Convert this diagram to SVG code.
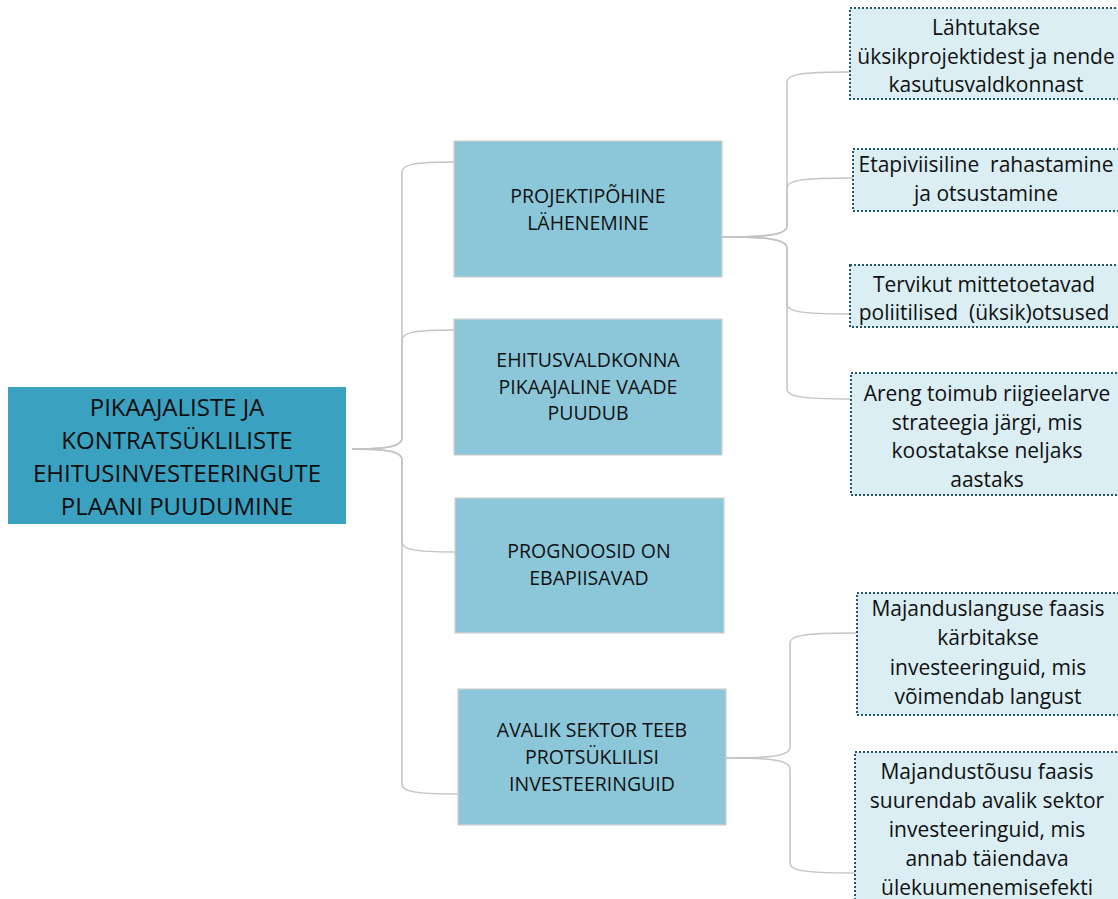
<svg xmlns="http://www.w3.org/2000/svg" width="1118" height="899" viewBox="0 0 1118 899">
<style>
.root rect{fill:#3ba1c0;}
.l1 rect{fill:#8bc7d9;stroke:#d0d0d0;stroke-width:1.2;}
.leaf rect{fill:#daeef3;stroke:#215968;stroke-width:2;stroke-dasharray:2 2;}
text{font-family:"Open Sans","Liberation Sans",sans-serif;fill:#111;text-anchor:middle;}
.root text{font-size:24px;fill:#0d0d0d;}
.l1 text{font-size:19.5px;}
.leaf text{font-size:21px;}
.conn path{fill:none;stroke:#c4c4c4;stroke-width:1.5;}
</style>
<rect width="1118" height="899" fill="#fff"/>
<g class="conn">
<path d="M352,449 C380,449 402,448 402,438 V172 C402,165 412,162 454,162"/>
<path d="M352,449 C380,449 402,448 402,438 V340 C402,333 412,330 454,330"/>
<path d="M352,449 C380,449 402,450 402,460 V542 C402,549 412,552 455,552"/>
<path d="M352,449 C380,449 402,450 402,460 V784 C402,791 412,794 458,794"/>
<path d="M722,237 C760,237 787,236 787,226 V82 C787,75 797,72 850,72"/>
<path d="M722,237 C760,237 787,236 787,226 V188 C787,181 797,178 853,178"/>
<path d="M722,237 C760,237 787,238 787,248 V304 C787,311 797,314 850,314"/>
<path d="M722,237 C760,237 787,238 787,248 V389 C787,396 797,399 851,399"/>
<path d="M726,758 C765,758 790,757 790,747 V643 C790,636 800,633 857,633"/>
<path d="M726,758 C765,758 790,759 790,769 V863 C790,870 800,873 855,873"/>
</g>
<g id="root" class="root">
<rect x="8" y="387" width="338" height="137"/>
<text x="177" y="416">PIKAAJALISTE JA</text>
<text x="177" y="449">KONTRATSÜKLILISTE</text>
<text x="177" y="482">EHITUSINVESTEERINGUTE</text>
<text x="177" y="515">PLAANI PUUDUMINE</text>
</g>
<g id="n1" class="l1">
<rect x="454" y="141" width="268" height="136"/>
<text x="588" y="203">PROJEKTIPÕHINE</text>
<text x="588" y="230">LÄHENEMINE</text>
</g>
<g id="n2" class="l1">
<rect x="454" y="319" width="268" height="136"/>
<text x="588" y="367">EHITUSVALDKONNA</text>
<text x="588" y="394">PIKAAJALINE VAADE</text>
<text x="588" y="420">PUUDUB</text>
</g>
<g id="n3" class="l1">
<rect x="455" y="498" width="269" height="135"/>
<text x="589" y="558">PROGNOOSID ON</text>
<text x="589" y="585">EBAPIISAVAD</text>
</g>
<g id="n4" class="l1">
<rect x="458" y="689" width="268" height="136"/>
<text x="592" y="737">AVALIK SEKTOR TEEB</text>
<text x="592" y="764">PROTSÜKLILISI</text>
<text x="592" y="791">INVESTEERINGUID</text>
</g>
<g id="leaf1" class="leaf">
<rect x="850" y="8" width="275" height="91"/>
<text x="986" y="35">Lähtutakse</text>
<text x="986" y="64">üksikprojektidest ja nende</text>
<text x="986" y="92">kasutusvaldkonnast</text>
</g>
<g id="leaf2" class="leaf">
<rect x="853" y="149" width="272" height="62"/>
<text x="986" y="172" xml:space="preserve">Etapiviisiline  rahastamine</text>
<text x="986" y="201">ja otsustamine</text>
</g>
<g id="leaf3" class="leaf">
<rect x="850" y="265" width="275" height="62"/>
<text x="984" y="292">Tervikut mittetoetavad</text>
<text x="984" y="320" xml:space="preserve">poliitilised  (üksik)otsused</text>
</g>
<g id="leaf4" class="leaf">
<rect x="851" y="373" width="274" height="122"/>
<text x="987" y="401">Areng toimub riigieelarve</text>
<text x="987" y="430">strateegia järgi, mis</text>
<text x="987" y="458">koostatakse neljaks</text>
<text x="987" y="487">aastaks</text>
</g>
<g id="leaf5" class="leaf">
<rect x="857" y="593" width="268" height="122"/>
<text x="988" y="616">Majanduslanguse faasis</text>
<text x="988" y="645">kärbitakse</text>
<text x="988" y="675">investeeringuid, mis</text>
<text x="988" y="704">võimendab langust</text>
</g>
<g id="leaf6" class="leaf">
<rect x="855" y="752" width="270" height="160"/>
<text x="987" y="779">Majandustõusu faasis</text>
<text x="987" y="808">suurendab avalik sektor</text>
<text x="987" y="837">investeeringuid, mis</text>
<text x="987" y="866">annab täiendava</text>
<text x="987" y="895">ülekuumenemisefekti</text>
</g>
</svg>
